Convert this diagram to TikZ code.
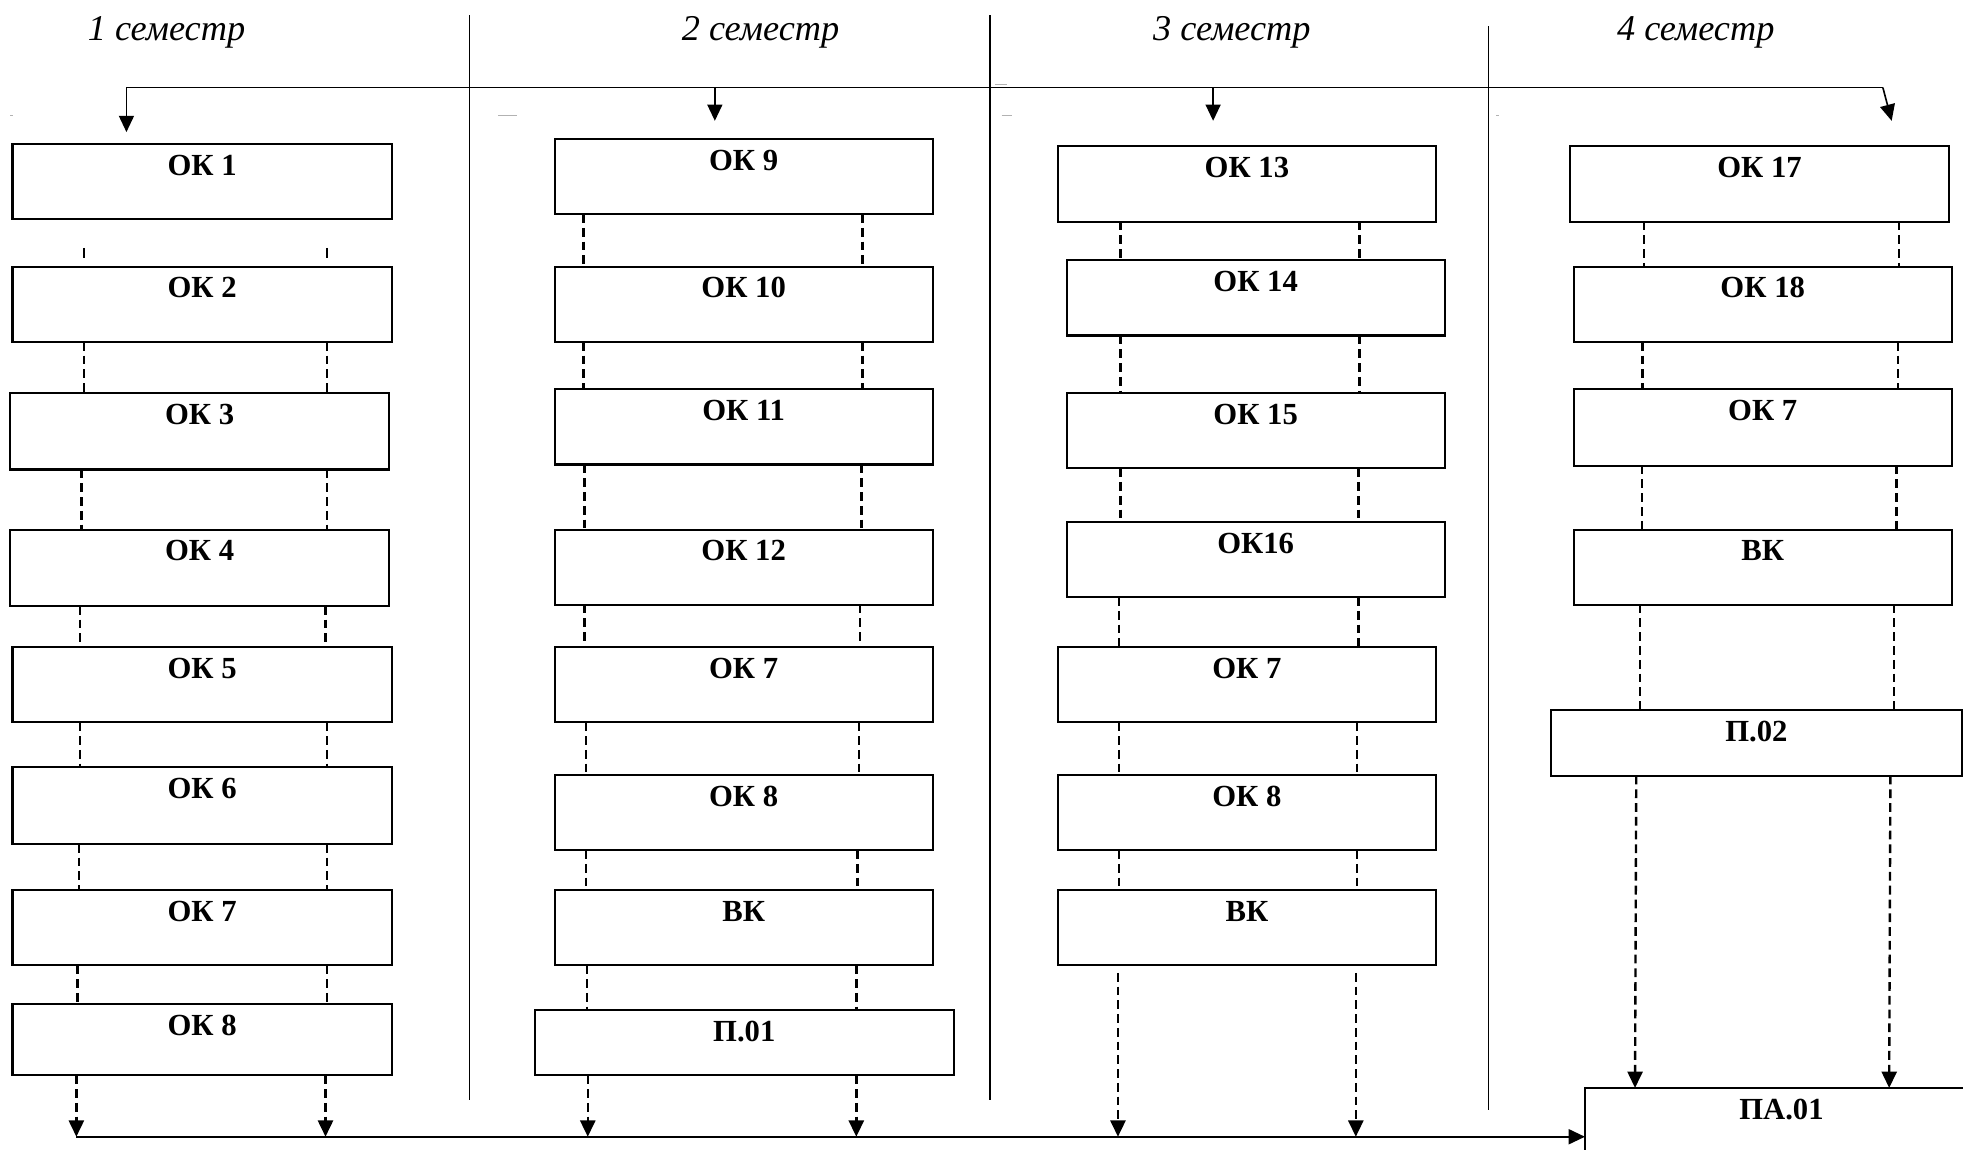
\documentclass[tikz,border=0pt]{standalone}
\usepackage{fontspec}
\setmainfont{Liberation Serif}
\usetikzlibrary{arrows.meta}
\newcommand\mkbox[6]{%
  \pgfmathsetmacro\bxw{#4-#2}%
  \pgfmathsetmacro\bxd{#5-#3-25}%
  \node[okbox, minimum width=\bxw pt, text depth=\bxd pt, anchor=north west] (#1) at (#2,#3) {#6};}
\newcommand\dlink[4]{%
  \draw[dsh] (#3,0 |- #1.south) -- (#4,0 |- #2.north);}
\tikzset{
  okbox/.style={draw, line width=1.7pt, inner sep=0pt, outer sep=0pt, text height=25pt,
    font=\fontsize{24.5}{28}\selectfont\bfseries},
  hdr/.style={anchor=base, inner sep=0pt, font=\fontsize{29}{34}\selectfont\itshape},
  dsh/.style={line width=1.9pt, dash pattern=on 7pt off 4pt},
  ln/.style={line width=1.3pt},
  divline/.style={line width=1.3pt},
  arr/.style={line width=1.3pt, -{Triangle[width=12pt,length=13pt]}},
  darr/.style={dsh, -{Triangle[width=12pt,length=13pt]}},
  faint/.style={draw=gray!60, line width=0.5pt}
}
\begin{document}
\begin{tikzpicture}[x=1pt,y=-1pt]
\useasboundingbox (0,0) rectangle (1568,918);
\clip (0,0) rectangle (1568,918);
\fill[white] (0,0) rectangle (1568,918);

% headers
\node[hdr] (h1) at (133,32) {1 семестр};
\node[hdr] (h2) at (607.5,32) {2 семестр};
\node[hdr] (h3) at (984,32) {3 семестр};
\node[hdr] (h4) at (1354.5,32) {4 семестр};

% dividers
\draw[divline] (375,12) -- (375,878.6);
\draw[divline] (791,12) -- (791,878.6);
\draw[divline] (1189,21) -- (1189,886.6);

% faint marks
\draw[faint] (8,92) -- (10.5,92);
\draw[faint] (398,92) -- (413,92);
\draw[faint] (795,67) -- (804,67);
\draw[faint] (800,92) -- (808,92);
\draw[faint] (1195,92) -- (1197.5,92);

% column 1
\mkbox{ok1}{10}{115}{313}{175}{ОК 1}
\mkbox{ok2}{10}{213}{313}{273}{ОК 2}
\mkbox{ok3}{8}{314}{311}{375}{ОК 3}
\mkbox{ok4}{8}{423}{311}{484}{ОК 4}
\mkbox{ok5}{10}{517}{313}{577}{ОК 5}
\mkbox{ok6}{10}{613}{313}{674}{ОК 6}
\mkbox{oksa}{10}{711}{313}{771}{ОК 7}
\mkbox{okea}{10}{802}{313}{859}{ОК 8}

% column 2
\mkbox{ok9}{443}{111}{745}{171}{ОК 9}
\mkbox{ok10}{443}{213}{745}{273}{ОК 10}
\mkbox{ok11}{443}{311}{745}{371}{ОК 11}
\mkbox{ok12}{443}{423}{745}{483}{ОК 12}
\mkbox{oksb}{443}{517}{745}{577}{ОК 7}
\mkbox{okeb}{443}{619}{745}{679}{ОК 8}
\mkbox{vkb}{443}{711}{745}{771}{ВК}
\mkbox{p01}{427}{807}{762}{859}{П.01}

% column 3
\mkbox{ok13}{845}{116.5}{1147}{177}{ОК 13}
\mkbox{ok14}{852}{208}{1154}{268}{ОК 14}
\mkbox{ok15}{852}{314}{1154}{374}{ОК 15}
\mkbox{ok16}{852}{417}{1154}{477}{ОК16}
\mkbox{oksc}{845}{517}{1147}{577}{ОК 7}
\mkbox{okec}{845}{619}{1147}{679}{ОК 8}
\mkbox{vkc}{845}{711}{1147}{771}{ВК}

% column 4
\mkbox{ok17}{1254}{116.5}{1557}{177}{ОК 17}
\mkbox{ok18}{1257}{213}{1559}{273}{ОК 18}
\mkbox{oksd}{1257}{311}{1559}{372}{ОК 7}
\mkbox{vkd}{1257}{423}{1559}{483}{ВК}
\mkbox{p02}{1239}{567}{1567}{619.5}{П.02}
\mkbox{pa}{1266}{869}{1580}{960}{ПА.01}

% top distribution line
\coordinate (tl) at (101,70);
\coordinate (tr) at (1504,70);
\coordinate (j2) at (571,70);
\coordinate (j3) at (969,70);
\coordinate (t1) at (101,105.5);
\coordinate (t2) at (571,96.5);
\coordinate (t3) at (969,96.5);
\coordinate (t4) at (1511,96.5);
\draw[ln] (tl) -- (tr);
\draw[arr] (tl) -- (t1);
\draw[arr] (j2) -- (t2);
\draw[arr] (j3) -- (t3);
\draw[arr] (tr) -- (t4);

% column 1 dashed links
\draw[line width=1.9pt, shorten <=23pt, shorten >=7pt] (67,0 |- ok1.south) -- (67,0 |- ok2.north);
\draw[line width=1.9pt, shorten <=23pt, shorten >=7pt] (261,0 |- ok1.south) -- (261,0 |- ok2.north);
\dlink{ok2}{ok3}{67}{67}\dlink{ok2}{ok3}{261}{261}
\dlink{ok3}{ok4}{65}{65}\dlink{ok3}{ok4}{261}{261}
\dlink{ok4}{ok5}{64}{64}\dlink{ok4}{ok5}{260}{260}
\dlink{ok5}{ok6}{64}{64}\dlink{ok5}{ok6}{261}{261}
\dlink{ok6}{oksa}{63}{63}\dlink{ok6}{oksa}{261}{261}
\dlink{oksa}{okea}{62}{62}\dlink{oksa}{okea}{261}{261}

% column 2 dashed links
\dlink{ok9}{ok10}{466}{466}\dlink{ok9}{ok10}{689}{689}
\dlink{ok10}{ok11}{466}{466}\dlink{ok10}{ok11}{689}{689}
\dlink{ok11}{ok12}{467}{467}\dlink{ok11}{ok12}{688}{688}
\dlink{ok12}{oksb}{467}{467}\dlink{ok12}{oksb}{687}{687}
\dlink{oksb}{okeb}{468}{468}\dlink{oksb}{okeb}{686}{686}
\dlink{okeb}{vkb}{468}{468}\dlink{okeb}{vkb}{685}{685}
\dlink{vkb}{p01}{469}{469}\dlink{vkb}{p01}{684}{684}

% column 3 dashed links
\dlink{ok13}{ok14}{895}{895}\dlink{ok13}{ok14}{1086}{1086}
\dlink{ok14}{ok15}{895}{895}\dlink{ok14}{ok15}{1086}{1086}
\dlink{ok15}{ok16}{895}{895}\dlink{ok15}{ok16}{1085}{1085}
\dlink{ok16}{oksc}{894}{894}\dlink{ok16}{oksc}{1085}{1085}
\dlink{oksc}{okec}{894}{894}\dlink{oksc}{okec}{1084}{1084}
\dlink{okec}{vkc}{894}{894}\dlink{okec}{vkc}{1084}{1084}

% column 4 dashed links
\dlink{ok17}{ok18}{1313}{1313}\dlink{ok17}{ok18}{1517}{1517}
\dlink{ok18}{oksd}{1312}{1312}\dlink{ok18}{oksd}{1516}{1516}
\dlink{oksd}{vkd}{1311.5}{1311.5}\dlink{oksd}{vkd}{1515}{1515}
\dlink{vkd}{p02}{1310}{1310}\dlink{vkd}{p02}{1513}{1513}
\draw[darr] (1307,0 |- p02.south) -- (1306,0 |- pa.north);
\draw[darr] (1510,0 |- p02.south) -- (1509,0 |- pa.north);

% bottom collecting line
\coordinate (bl) at (61,908);
\draw[arr, line width=1.4pt] (bl) -- (bl -| pa.west);
\draw[darr] (61,0 |- okea.south) -- (61,0 |- bl);
\draw[darr] (260,0 |- okea.south) -- (260,0 |- bl);
\draw[darr] (469.5,0 |- p01.south) -- (469.5,0 |- bl);
\draw[darr] (684,0 |- p01.south) -- (684,0 |- bl);
\draw[darr, shorten <=6pt] (893,0 |- vkc.south) -- (893,0 |- bl);
\draw[darr, shorten <=6pt] (1083,0 |- vkc.south) -- (1083,0 |- bl);
\end{tikzpicture}
\end{document}
